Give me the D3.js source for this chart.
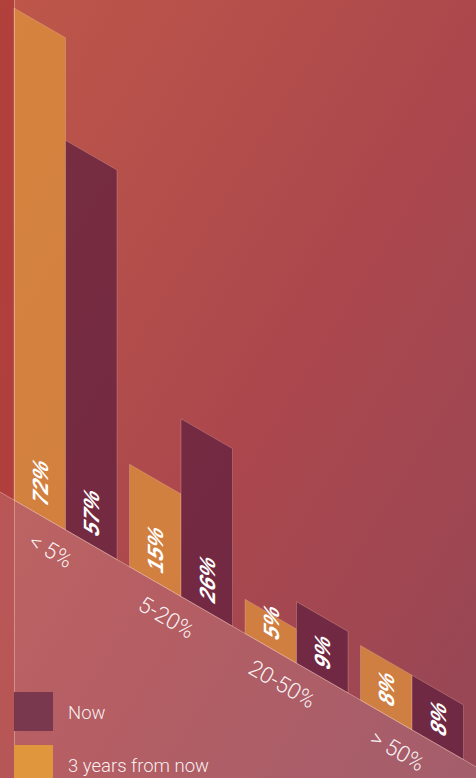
<!DOCTYPE html>
<html>
<head>
<meta charset="utf-8">
<script src="https://cdn.jsdelivr.net/npm/d3@7/dist/d3.min.js"></script>
<style>
  html, body { margin: 0; padding: 0; background: #b04a4a; overflow: hidden; }
  svg { display: block; }
</style>
</head>
<body>
<svg id="chart" width="476" height="778"></svg>
<script>
// ---- data ----
const categories = ["< 5%", "5-20%", "20-50%", "> 50%"];
const seriesKeys = ["later", "now"];
const seriesLabels = ["3 years from now", "Now"];
const laterValues = [72, 15, 5, 8];
const nowValues = [57, 26, 9, 8];
const legendOrder = ["now", "later"];

// ---- layout ----
const W = 476, H = 778;
const skewDeg = 30;
const tanS = Math.tan(skewDeg * Math.PI / 180);
const baseY = 492;     // baseline height at x = 0
const plotLeft = 14;

const barColor = { later: "#dd8f3c", now: "#64213f" };
const legendColor = { later: "#e0963c", now: "#7a384e" };

const svg = d3.select("#chart");
const defs = svg.append("defs");

const bg = defs.append("linearGradient").attr("id", "bg")
  .attr("x1", 0).attr("y1", 0).attr("x2", 1).attr("y2", 1);
bg.append("stop").attr("offset", "0%").attr("stop-color", "#be5749");
bg.append("stop").attr("offset", "55%").attr("stop-color", "#ab474d");
bg.append("stop").attr("offset", "100%").attr("stop-color", "#964756");

svg.append("rect").attr("width", W).attr("height", H).attr("fill", "url(#bg)");

// left strip
svg.append("rect").attr("x", 0).attr("y", 0).attr("width", plotLeft).attr("height", H)
  .attr("fill", "#ad3a38").attr("opacity", 0.75);

// scales
const x0 = d3.scaleBand().domain(categories).range([plotLeft, W])
  .paddingInner(0.108).paddingOuter(0.054).align(0);
const x1 = d3.scaleBand().domain(seriesKeys).range([0, x0.bandwidth()]).padding(0);
const y = d3.scaleLinear().domain([0, 72]).range([0, 492]);

const data = categories.map((c, i) => ({
  cat: c,
  values: [
    { key: "later", value: laterValues[i] },
    { key: "now", value: nowValues[i] }
  ]
}));

// skewed plot group
const plot = svg.append("g")
  .attr("transform", `translate(0,${baseY}) skewY(${skewDeg})`);

const groups = plot.selectAll("g.grp").data(data).join("g")
  .attr("class", "grp")
  .attr("transform", d => `translate(${x0(d.cat)},0)`);

groups.selectAll("rect").data(d => d.values).join("rect")
  .attr("x", d => x1(d.key))
  .attr("y", d => -y(d.value))
  .attr("width", x1.bandwidth())
  .attr("height", d => y(d.value))
  .attr("fill", d => barColor[d.key])
  .attr("fill-opacity", 0.78)
  .attr("stroke", "#f3c7b4")
  .attr("stroke-opacity", 0.35)
  .attr("stroke-width", 0.7);

// value labels
groups.selectAll("text.val").data(d => d.values).join("text")
  .attr("class", "val")
  .attr("transform", d => `translate(${x1(d.key) + x1.bandwidth() / 2},-11) rotate(-90)`)
  .attr("dy", "0.36em")
  .attr("text-anchor", "start")
  .attr("fill", "#ffffff")
  .attr("font-family", "'Liberation Sans', Arial, sans-serif")
  .attr("font-weight", "bold")
  .attr("font-size", 22)
  .text(d => d.value + "%");

// lower band (below baseline)
const bandPath = d3.path();
bandPath.moveTo(0, baseY);
bandPath.lineTo(W, baseY + W * tanS);
bandPath.lineTo(W, H);
bandPath.lineTo(0, H);
bandPath.closePath();
svg.append("path").attr("d", bandPath.toString())
  .attr("fill", "#ffffff").attr("fill-opacity", 0.13);

// baseline line
svg.append("line")
  .attr("x1", 0).attr("y1", baseY)
  .attr("x2", W).attr("y2", baseY + W * tanS)
  .attr("stroke", "#f6d2c2").attr("stroke-opacity", 0.55).attr("stroke-width", 0.8);

// vertical line at plot left
svg.append("line")
  .attr("x1", plotLeft + 0.5).attr("y1", 0)
  .attr("x2", plotLeft + 0.5).attr("y2", H)
  .attr("stroke", "#f3c7b4").attr("stroke-opacity", 0.45).attr("stroke-width", 1);

// category labels (rotated along baseline)
svg.selectAll("text.cat").data(categories).join("text")
  .attr("class", "cat")
  .attr("transform", c => {
    const cx = x0(c) + x0.bandwidth() / 2;
    return `translate(${cx},${baseY + cx * tanS}) rotate(${skewDeg})`;
  })
  .attr("x", -2).attr("y", 33)
  .attr("text-anchor", "middle")
  .attr("fill", "#ffffff").attr("fill-opacity", 0.92)
  .attr("font-family", "Roboto, 'Liberation Sans', sans-serif")
  .attr("font-weight", 300)
  .attr("font-size", 22.5)
  .text(c => c);

// legend
const legend = svg.append("g").attr("transform", "translate(14,692)");
const lg = legend.selectAll("g").data(legendOrder).join("g")
  .attr("transform", (k, i) => `translate(0,${i * 53})`);
lg.append("rect").attr("width", 39).attr("height", 39)
  .attr("fill", k => legendColor[k]);
lg.append("text")
  .attr("x", 54).attr("y", 27)
  .attr("fill", "#ffffff").attr("fill-opacity", 0.92)
  .attr("font-family", "Roboto, 'Liberation Sans', sans-serif")
  .attr("font-weight", 300)
  .attr("font-size", 18.5)
  .text(k => seriesLabels[seriesKeys.indexOf(k)]);
</script>
</body>
</html>
